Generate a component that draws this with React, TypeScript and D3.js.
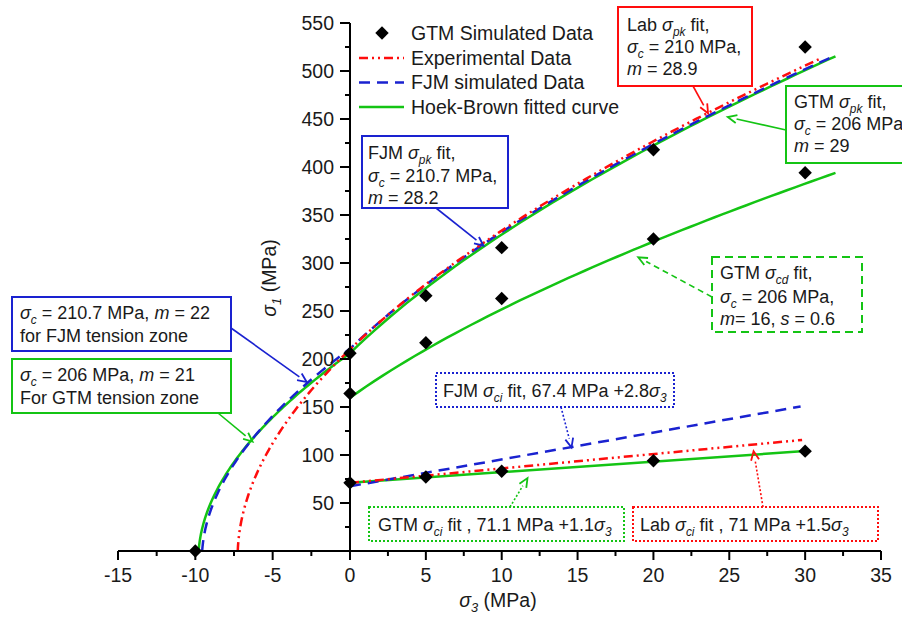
import React from "react";
import * as d3 from "d3";

// ---------- data ----------
const gtmSigma3 = [-10, 0, 0, 0, 5, 5, 5, 10, 10, 10, 20, 20, 20, 30, 30, 30];
const gtmSigma1 = [0, 206, 164, 71, 266, 217, 77, 316, 263, 83, 418, 325, 94, 525, 394, 104];

// Hoek-Brown curves (parameters as printed on the chart)
const hbKeys = ["gtmCd", "gtmPk", "fjmPk", "labPk"];
const hbSigmaC = [206, 206, 210.7, 210];
const hbMComp = [16, 29, 28.2, 28.9];
const hbMTens = [0, 21, 22, 28.9];
const hbS = [0.6, 1, 1, 1];
const hbEnd = [32, 32, 32, 31.1];
const hbStyle = ["green", "green", "blue", "red"];

// linear sigma_ci fits
const ciKeys = ["gtmCi", "fjmCi", "labCi"];
const ciIntercept = [71.1, 67.4, 71];
const ciSlope = [1.1, 2.8, 1.5];
const ciEnd = [30, 29.7, 29.8];
const ciStyle = ["green", "blue", "red"];

const xTicks = [-15, -10, -5, 0, 5, 10, 15, 20, 25, 30, 35];
const yTicks = [50, 100, 150, 200, 250, 300, 350, 400, 450, 500, 550];

const legendLabels = ["GTM Simulated Data", "Experimental Data", "FJM simulated Data", "Hoek-Brown fitted curve"];

// ---------- styles ----------
const COL = { green: "#14c414", blue: "#1a22d0", red: "#ff0d0d" };
const DASH: Record<string, string> = { green: "none", blue: "11 7", red: "9 4 2 4 2 4" };
const FONT = "'Liberation Sans', Arial, Helvetica, sans-serif";

const W = 902, H = 619;
const x = d3.scaleLinear().domain([-15, 0, 35]).range([118, 350, 881]);
const y = d3.scaleLinear().domain([0, 550]).range([551, 23]);

function hbPoints(i: number): [number, number][] {
  const sc = hbSigmaC[i], s = hbS[i];
  const pts: [number, number][] = [];
  if (hbMTens[i] > 0) {
    const mt = hbMTens[i];
    const root = (sc * (mt - Math.sqrt(mt * mt + 4 * s))) / 2;
    const n = 80;
    for (let k = 0; k <= n; k++) {
      const t = k / n;
      const s3 = root + (0 - root) * t * t;
      const v = Math.max(0, (mt * s3) / sc + s);
      pts.push([s3, s3 + sc * Math.sqrt(v)]);
    }
  }
  const mc = hbMComp[i];
  const n2 = 60;
  for (let k = hbMTens[i] > 0 ? 1 : 0; k <= n2; k++) {
    const s3 = (hbEnd[i] * k) / n2;
    pts.push([s3, s3 + sc * Math.sqrt((mc * s3) / sc + s)]);
  }
  return pts;
}

const line = d3
  .line<[number, number]>()
  .x((d) => x(d[0]))
  .y((d) => y(d[1]));

// ---------- rich text ----------
function parseRich(str: string) {
  const parts = str.split(/(\*[^*]+\*|_[^_]+_)/).filter((p) => p.length);
  return parts.map((p) => {
    if (p.startsWith("*")) return { t: p.slice(1, -1), i: true, sub: false };
    if (p.startsWith("_")) return { t: p.slice(1, -1), i: true, sub: true };
    return { t: p, i: false, sub: false };
  });
}

function Rich({ x0, y0, str, size, anchor, transform }: { x0: number; y0: number; str: string; size: number; anchor?: string; transform?: string }) {
  const segs = parseRich(str);
  let inSub = false;
  const shift = size * 0.26;
  return (
    <text x={x0} y={y0} fontSize={size} fontFamily={FONT} fill="#1a1a1a" textAnchor={anchor || "start"} transform={transform} style={{ whiteSpace: "pre" }}>
      {segs.map((s, k) => {
        let dy = 0;
        if (s.sub && !inSub) dy = shift;
        if (!s.sub && inSub) dy = -shift;
        inSub = s.sub;
        return (
          <tspan key={k} dy={dy} fontStyle={s.i ? "italic" : "normal"} fontSize={s.sub ? size * 0.66 : size}>
            {s.t}
          </tspan>
        );
      })}
    </text>
  );
}

// ---------- annotations (box layout in px, arrow tips in data units) ----------
type Box = { bx: number; by: number; bw: number; bh: number; color: string; dash: string; lines: string[]; tx: number; base: number[]; tail: [number, number]; tip: [number, number]; adash: string };
const boxes: Box[] = [
  { bx: 618, by: 7, bw: 134, bh: 79, color: "red", dash: "none", lines: ["Lab *σ*_pk_ fit,", "*σ*_c_ = 210 MPa,", "*m* = 28.9"], tx: 627, base: [31, 53, 75], tail: [693, 86], tip: [23.6, 456], adash: "none" },
  { bx: 786, by: 86, bw: 140, bh: 77, color: "green", dash: "none", lines: ["GTM *σ*_pk_ fit,", "*σ*_c_ = 206 MPa", "*m* = 29"], tx: 794, base: [108, 130, 152], tail: [786, 130], tip: [24.9, 452], adash: "none" },
  { bx: 362, by: 136, bw: 146, bh: 72, color: "blue", dash: "none", lines: ["FJM *σ*_pk_ fit,", "*σ*_c_ = 210.7 MPa,", "*m* = 28.2"], tx: 368, base: [159, 182, 204], tail: [436, 208], tip: [8.8, 318], adash: "none" },
  { bx: 712, by: 257, bw: 150, bh: 75, color: "green", dash: "8 5", lines: ["GTM *σ*_cd_ fit,", "*σ*_c_ = 206 MPa,", "*m*= 16, *s* = 0.6"], tx: 720, base: [279, 303, 325], tail: [712, 297], tip: [19.0, 306], adash: "6 4" },
  { bx: 12, by: 297, bw: 219, bh: 54, color: "blue", dash: "none", lines: ["*σ*_c_ = 210.7 MPa, *m* = 22", "for FJM tension zone"], tx: 20, base: [319, 342], tail: [231, 328], tip: [-2.8, 176], adash: "none" },
  { bx: 12, by: 359, bw: 219, bh: 54, color: "green", dash: "none", lines: ["*σ*_c_ = 206 MPa, *m* = 21", "For GTM tension zone"], tx: 20, base: [381, 404], tail: [218, 413], tip: [-6.3, 114], adash: "none" },
  { bx: 436, by: 373, bw: 238, bh: 34, color: "blue", dash: "2 2", lines: ["FJM *σ*_ci_ fit, 67.4 MPa +2.8*σ*_3_"], tx: 443, base: [397], tail: [561, 407], tip: [14.6, 108], adash: "2 2" },
  { bx: 369, by: 507, bw: 255, bh: 34, color: "green", dash: "2 2", lines: ["GTM *σ*_ci_ fit , 71.1 MPa +1.1*σ*_3_"], tx: 378, base: [531], tail: [510, 507], tip: [11.7, 76], adash: "2 2" },
  { bx: 633, by: 507, bw: 245, bh: 34, color: "red", dash: "2 2", lines: ["Lab *σ*_ci_ fit , 71 MPa +1.5*σ*_3_"], tx: 640, base: [531], tail: [763, 507], tip: [26.6, 104], adash: "2 2" },
];

function Arrow({ b }: { b: Box }) {
  const c = COL[b.color as keyof typeof COL];
  const [x1, y1] = b.tail;
  const x2 = x(b.tip[0]), y2 = y(b.tip[1]);
  const ang = Math.atan2(y2 - y1, x2 - x1);
  const L = 9, Wd = 4;
  const bxp = x2 - L * Math.cos(ang), byp = y2 - L * Math.sin(ang);
  const p1 = [bxp + Wd * Math.sin(ang), byp - Wd * Math.cos(ang)];
  const p2 = [bxp - Wd * Math.sin(ang), byp + Wd * Math.cos(ang)];
  return (
    <g>
      <line x1={x1} y1={y1} x2={bxp} y2={byp} stroke={c} strokeWidth={1.6} strokeDasharray={b.adash} />
      <path d={`M${p1[0]},${p1[1]}L${x2},${y2}L${p2[0]},${p2[1]}`} fill="none" stroke={c} strokeWidth={1.8} />
    </g>
  );
}

function Diamond({ cx, cy }: { cx: number; cy: number }) {
  const path = d3.symbol(d3.symbolSquare, 90)() as string;
  return <path d={path} transform={`translate(${cx},${cy}) rotate(45)`} fill="#000" />;
}

export default function App() {
  const xMinor = d3.range(-15, 35.01, 2.5).filter((v) => Math.abs(v % 5) > 0.01);
  const yMinor = d3.range(25, 550, 50);
  return (
    <svg width={W} height={H} style={{ position: "absolute", left: 0, top: 0, background: "#fff", overflow: "hidden" }}>
      {/* curves */}
      {hbKeys.map((k, i) => (
        <path key={k} d={line(hbPoints(i)) as string} fill="none" stroke={COL[hbStyle[i] as keyof typeof COL]} strokeWidth={2.5} strokeDasharray={DASH[hbStyle[i]]} />
      ))}
      {ciKeys.map((k, i) => (
        <path
          key={k}
          d={line([[0, ciIntercept[i]], [ciEnd[i], ciIntercept[i] + ciSlope[i] * ciEnd[i]]]) as string}
          fill="none"
          stroke={COL[ciStyle[i] as keyof typeof COL]}
          strokeWidth={2.5}
          strokeDasharray={DASH[ciStyle[i]]}
        />
      ))}

      {/* axes */}
      <g stroke="#000" strokeWidth={2}>
        <line x1={x(-15)} x2={x(35)} y1={y(0)} y2={y(0)} />
        <line x1={x(0)} x2={x(0)} y1={y(0)} y2={y(550)} />
        {xTicks.map((t) => (
          <line key={"xt" + t} x1={x(t)} x2={x(t)} y1={y(0)} y2={y(0) + 9} />
        ))}
        {xMinor.map((t) => (
          <line key={"xm" + t} x1={x(t)} x2={x(t)} y1={y(0)} y2={y(0) + 5} />
        ))}
        {yTicks.map((t) => (
          <line key={"yt" + t} x1={x(0) - 10} x2={x(0)} y1={y(t)} y2={y(t)} />
        ))}
        {yMinor.map((t) => (
          <line key={"ym" + t} x1={x(0) - 5} x2={x(0)} y1={y(t)} y2={y(t)} />
        ))}
      </g>
      {xTicks.map((t) => (
        <text key={"xl" + t} x={x(t)} y={y(0) + 31} textAnchor="middle" fontSize={19.5} fontFamily={FONT} fill="#1a1a1a">
          {t}
        </text>
      ))}
      {yTicks.map((t) => (
        <text key={"yl" + t} x={x(0) - 16} y={y(t) + 7} textAnchor="end" fontSize={19.5} fontFamily={FONT} fill="#1a1a1a">
          {t}
        </text>
      ))}
      <Rich x0={498} y0={607} str={"*σ*_3_ (MPa)"} size={19.5} anchor="middle" />
      <Rich x0={0} y0={0} str={"*σ*_1_ (MPa)"} size={19.5} anchor="middle" transform="translate(276,278) rotate(-90)" />

      {/* data points */}
      {gtmSigma3.map((s3, i) => (
        <Diamond key={"d" + i} cx={x(s3)} cy={y(gtmSigma1[i])} />
      ))}

      {/* legend */}
      <Diamond cx={382} cy={33} />
      {["red", "blue", "green"].map((c, i) => (
        <line key={"lg" + c} x1={359} x2={404} y1={58 + i * 24.5} y2={58 + i * 24.5} stroke={COL[c as keyof typeof COL]} strokeWidth={2.5} strokeDasharray={DASH[c]} />
      ))}
      {legendLabels.map((l, i) => (
        <text key={"ll" + i} x={411} y={40 + i * 24.5} fontSize={19.5} fontFamily={FONT} fill="#1a1a1a">
          {l}
        </text>
      ))}

      {/* annotation boxes */}
      {boxes.map((b, i) => (
        <g key={"b" + i}>
          <Arrow b={b} />
          <rect x={b.bx} y={b.by} width={b.bw} height={b.bh} fill="#fff" stroke={COL[b.color as keyof typeof COL]} strokeWidth={2} strokeDasharray={b.dash} />
          {b.lines.map((ln, j) => (
            <Rich key={j} x0={b.tx} y0={b.base[j]} str={ln} size={18} />
          ))}
        </g>
      ))}
    </svg>
  );
}
